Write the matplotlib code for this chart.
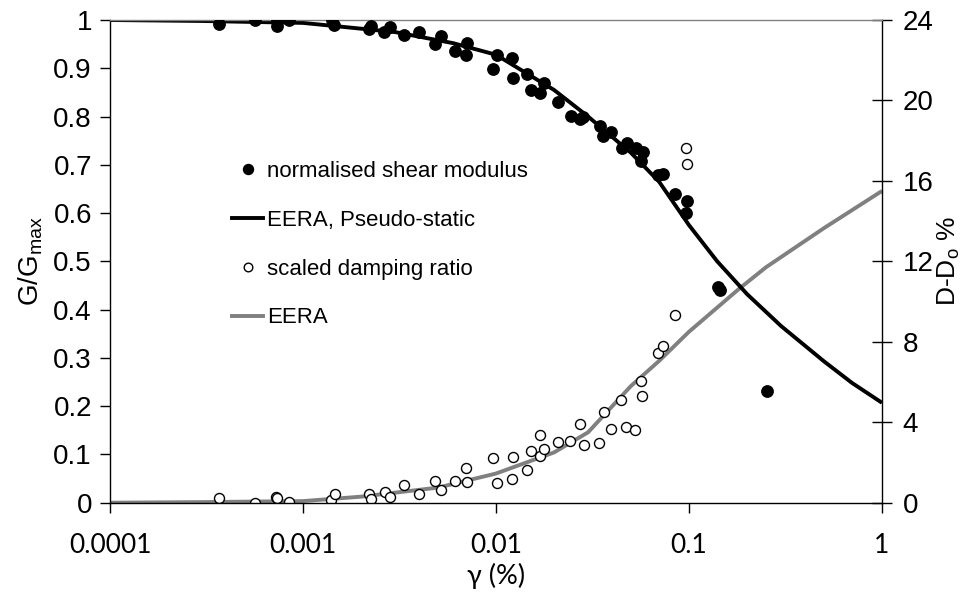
import matplotlib
matplotlib.use("Agg")
import matplotlib.pyplot as plt
from matplotlib.lines import Line2D
from matplotlib.ticker import FixedLocator, FixedFormatter

plt.rcParams['font.family'] = ['Liberation Sans', 'DejaVu Sans']

# Measured normalised shear modulus G/Gmax vs shear strain (%)
strain_g = [0.000368, 0.000564, 0.000730, 0.000735, 0.000843, 0.00141, 0.00145,
            0.00224, 0.00221, 0.00264, 0.00283, 0.00334, 0.00401, 0.00485, 0.00519,
            0.00615, 0.00697, 0.00705, 0.00962, 0.0101, 0.01205, 0.0123, 0.01452,
            0.01513, 0.0169, 0.0178, 0.0209, 0.0244, 0.0272, 0.0283, 0.0346, 0.0360,
            0.0396, 0.0448, 0.0475, 0.0529, 0.0576, 0.0564, 0.0693, 0.0736, 0.0849,
            0.0980, 0.0962, 0.1445, 0.1420, 0.255]
g_ratio = [0.992, 0.999, 1.000, 0.988, 1.000, 0.999, 0.990,
           0.988, 0.981, 0.976, 0.985, 0.969, 0.975, 0.950, 0.967,
           0.935, 0.928, 0.952, 0.899, 0.928, 0.921, 0.879, 0.888,
           0.856, 0.848, 0.870, 0.830, 0.802, 0.794, 0.800, 0.781, 0.760,
           0.769, 0.735, 0.746, 0.734, 0.726, 0.708, 0.679, 0.681, 0.640,
           0.624, 0.601, 0.441, 0.446, 0.232]

# Scaled damping ratio D-Do (%) vs shear strain (%)
strain_d = [0.000368, 0.000564, 0.000724, 0.000735, 0.000843, 0.00140, 0.00146,
            0.00220, 0.00225, 0.00266, 0.00282, 0.00334, 0.00399, 0.00485, 0.00519,
            0.00615, 0.00697, 0.00705, 0.00962, 0.0101, 0.0122, 0.0121, 0.01452,
            0.01513, 0.0169, 0.0169, 0.0177, 0.0209, 0.0243, 0.0272, 0.0286, 0.0343,
            0.0361, 0.0396, 0.0443, 0.0473, 0.0525, 0.0562, 0.0573, 0.0693, 0.0731,
            0.0849, 0.0962, 0.0980]
damping = [0.22, 0.00, 0.30, 0.22, 0.03, 0.13, 0.42,
           0.45, 0.18, 0.55, 0.30, 0.89, 0.43, 1.09, 0.65,
           1.09, 1.74, 1.01, 2.21, 0.96, 2.29, 1.18, 1.63,
           2.59, 3.35, 2.34, 2.66, 3.03, 3.08, 3.91, 2.87, 2.97,
           4.52, 3.66, 5.12, 3.78, 3.61, 6.04, 5.32, 7.43, 7.78,
           9.33, 17.62, 16.84]

# EERA pseudo-static modulus reduction curve
eera_strain_g = [0.0001, 0.0003, 0.001, 0.003, 0.006, 0.01, 0.02, 0.03, 0.05,
                 0.07, 0.1, 0.14, 0.2, 0.3, 0.5, 0.7, 1.0]
eera_g = [1.0, 0.998, 0.994, 0.975, 0.952, 0.928, 0.855, 0.80, 0.725,
          0.665, 0.575, 0.50, 0.432, 0.366, 0.293, 0.248, 0.207]

# EERA damping curve
eera_strain_d = [0.0001, 0.0003, 0.001, 0.002, 0.005, 0.01, 0.02, 0.03, 0.05,
                 0.07, 0.1, 0.18, 0.25, 0.5, 1.0]
eera_d = [0.0, 0.03, 0.08, 0.3, 0.75, 1.45, 2.5, 3.5, 5.8,
          7.05, 8.5, 10.6, 11.7, 13.65, 15.5]

x_ticks = [0.0001, 0.001, 0.01, 0.1, 1]
x_labels = ['0.0001', '0.001', '0.01', '0.1', '1']
y_ticks = [0, 0.1, 0.2, 0.3, 0.4, 0.5, 0.6, 0.7, 0.8, 0.9, 1.0]
y_labels = ['0', '0.1', '0.2', '0.3', '0.4', '0.5', '0.6', '0.7', '0.8', '0.9', '1']
y2_ticks = [0, 4, 8, 12, 16, 20, 24]

fig = plt.figure(figsize=(9.68, 5.95), dpi=100)
ax = fig.add_axes([110 / 968, 1 - 502.7 / 595, (882 - 110) / 968, (502.7 - 20) / 595])
ax2 = ax.twinx()

ax.set_xscale('log')
ax.set_xlim(0.0001, 1)
ax.set_ylim(0, 1)
ax2.set_ylim(0, 24)

gray = '#808080'
ax2.plot(eera_strain_d, eera_d, color=gray, lw=2.8, zorder=2, solid_capstyle='butt')
ax2.plot(strain_d, damping, linestyle='none', marker='o', markersize=7.2,
         markerfacecolor='white', markeredgecolor='black', markeredgewidth=1.0, zorder=3)
ax.plot(eera_strain_g, eera_g, color='black', lw=2.8, zorder=2, solid_capstyle='butt')
ax.plot(strain_g, g_ratio, linestyle='none', marker='o', markersize=8.2,
        markerfacecolor='black', markeredgecolor='black', zorder=3)

# put primary axis on top of the twin so its markers stay visible
ax.set_zorder(ax2.get_zorder() + 1)
ax.patch.set_visible(False)

# ticks and labels
ax.xaxis.set_major_locator(FixedLocator(x_ticks))
ax.xaxis.set_major_formatter(FixedFormatter(x_labels))
ax.xaxis.set_minor_locator(FixedLocator([]))
ax.set_yticks(y_ticks)
ax.set_yticklabels(y_labels)
ax2.set_yticks(y2_ticks)
ax2.set_yticklabels([str(v) for v in y2_ticks])

xfont = ['Lato', 'Noto Sans', 'DejaVu Sans']
for lab in ax.get_xticklabels():
    lab.set_family(xfont)
    lab.set_fontsize(19)
ax.tick_params(axis='x', direction='out', length=7, width=1, pad=15, colors='black')
ax.tick_params(axis='y', direction='out', length=7, width=1, labelsize=20, pad=6)
ax2.tick_params(axis='y', direction='inout', length=14, width=1, labelsize=20, pad=8)

for side in ['left', 'bottom']:
    ax.spines[side].set_color('black')
    ax.spines[side].set_linewidth(1)
ax.spines['top'].set_color(gray)
ax.spines['top'].set_linewidth(1)
ax.spines['right'].set_visible(False)
ax2.spines['right'].set_color('black')
ax2.spines['right'].set_linewidth(1)
ax2.spines['top'].set_visible(False)
ax2.spines['left'].set_visible(False)
ax2.spines['bottom'].set_visible(False)

ax.set_xlabel('γ (%)', fontsize=19.5, family=xfont, labelpad=3)
ax.set_ylabel('G/G$_\\mathregular{max}$', fontsize=20, labelpad=6)
ax2.set_ylabel('D-D$_\\mathregular{o}$ %', fontsize=19, labelpad=1)

handles = [
    Line2D([], [], linestyle='none', marker='o', markersize=7.2,
           markerfacecolor='black', markeredgecolor='black'),
    Line2D([], [], color='black', lw=2.8),
    Line2D([], [], linestyle='none', marker='o', markersize=6.2,
           markerfacecolor='white', markeredgecolor='black', markeredgewidth=1.0),
    Line2D([], [], color=gray, lw=2.8),
]
labels = ['normalised shear modulus', 'EERA, Pseudo-static',
          'scaled damping ratio', 'EERA']
fig.legend(handles, labels, loc='upper left', bbox_to_anchor=(232 / 968, 1 - 161 / 595),
           frameon=False, fontsize=16, handlelength=1.4, handletextpad=0.17,
           labelspacing=1.25, borderaxespad=0, borderpad=0)

fig.savefig('out.png', dpi=100)
